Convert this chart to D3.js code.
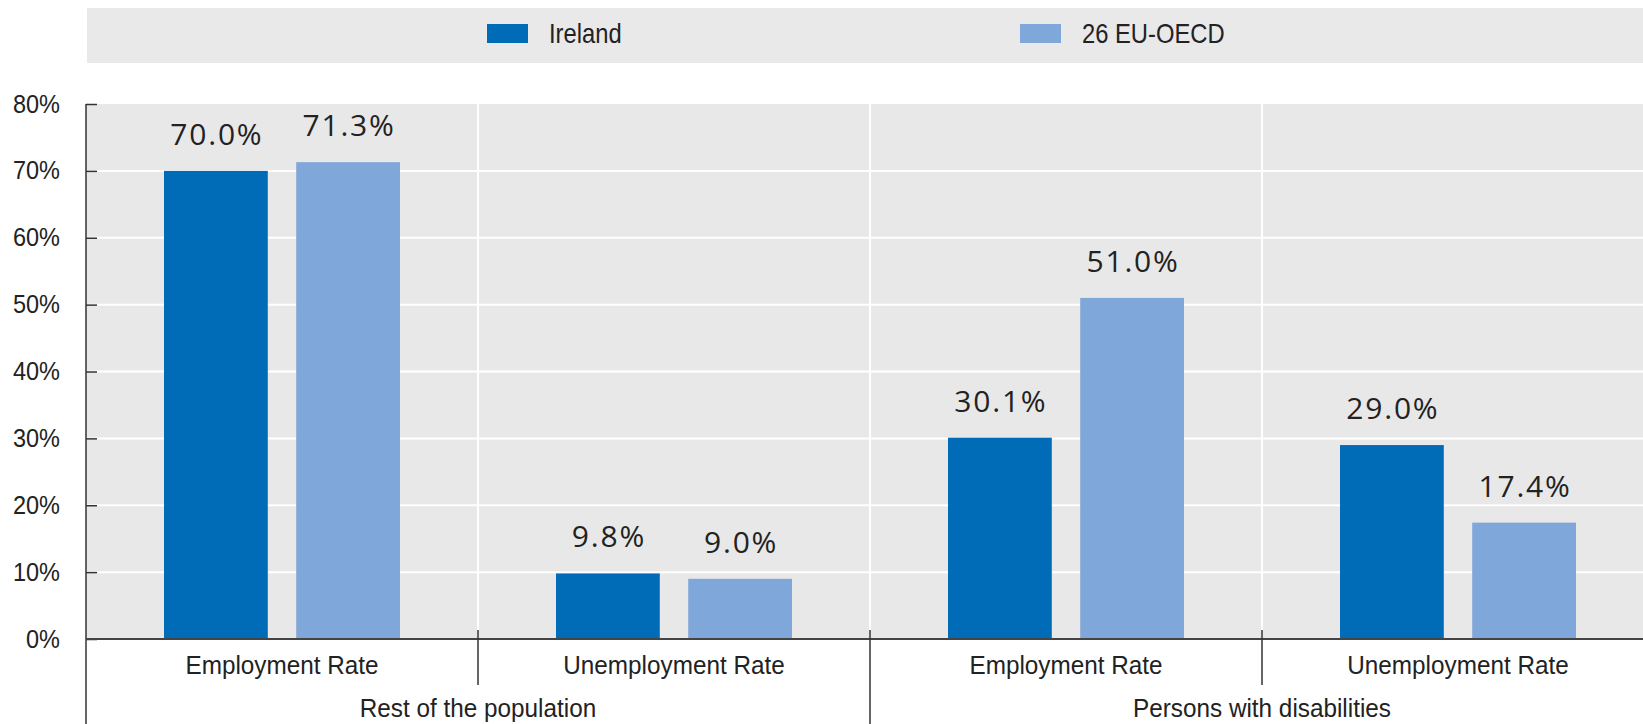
<!DOCTYPE html>
<html>
<head>
<meta charset="utf-8">
<script src="https://cdn.jsdelivr.net/npm/d3@7"></script>
<style>
  body { margin: 0; background: #fff; }
  svg { display: block; }
  text { fill: #222; }
</style>
</head>
<body>
<div id="chart"></div>
<script>
// data
const groups = ["Rest of the population", "Persons with disabilities"];
const categories = ["Employment Rate", "Unemployment Rate", "Employment Rate", "Unemployment Rate"];
const series = ["Ireland", "26 EU-OECD"];
const ireland = [70.0, 9.8, 30.1, 29.0];
const euOecd = [71.3, 9.0, 51.0, 17.4];
const yTicks = [0, 10, 20, 30, 40, 50, 60, 70, 80];

const WIDTH = 1643, HEIGHT = 724;
const colors = { "Ireland": "#006bb6", "26 EU-OECD": "#7fa7d9" };
const narrowFont = "'Liberation Sans', Arial, sans-serif";

// rows for the bars
const rows = categories.map((c, i) => ({
  idx: i,
  cat: c,
  values: [
    { s: "Ireland", v: ireland[i] },
    { s: "26 EU-OECD", v: euOecd[i] }
  ]
}));

// no narrow font installed, so squeeze the regular one sideways
function squeezed(parent, x, yPos, sx, size, anchor, txt) {
  return parent.append("text")
    .attr("transform", `translate(${x},${yPos}) scale(${sx},1)`)
    .attr("text-anchor", anchor)
    .attr("font-family", narrowFont)
    .attr("font-size", size + "px")
    .text(txt);
}

const svg = d3.select("#chart").append("svg")
  .attr("width", WIDTH)
  .attr("height", HEIGHT);

// plot area goes a bit past the right edge, like the original
const plotLeft = 86, plotRight = 1654, plotTop = 104, plotBottom = 639;

const x0 = d3.scaleBand()
  .domain(d3.range(categories.length))
  .range([plotLeft, plotRight])
  .padding(0);

const x1 = d3.scaleBand()
  .domain(series)
  .range([78, x0.bandwidth() - 78])
  .paddingInner(0.215);

const y = d3.scaleLinear()
  .domain([0, 80])
  .range([plotBottom, plotTop]);

// legend band
const legend = svg.append("g");
legend.append("rect")
  .attr("x", 87).attr("y", 8)
  .attr("width", WIDTH - 87).attr("height", 55)
  .attr("fill", "#e9e9e9");

const legendX = [487, 1020];
series.forEach((s, i) => {
  legend.append("rect")
    .attr("x", legendX[i]).attr("y", 24)
    .attr("width", 41).attr("height", 19)
    .attr("fill", colors[s]);
  squeezed(legend, legendX[i] + 62, 43, 0.88, 27, "start", s);
});

// plot background
svg.append("rect")
  .attr("x", plotLeft).attr("y", plotTop)
  .attr("width", plotRight - plotLeft).attr("height", plotBottom - plotTop)
  .attr("fill", "#e8e8e8");

// horizontal gridlines
svg.append("g")
  .selectAll("line")
  .data(yTicks.filter(d => d > 0 && d < 80))
  .enter().append("line")
  .attr("x1", plotLeft).attr("x2", plotRight)
  .attr("y1", d => y(d)).attr("y2", d => y(d))
  .attr("stroke", "#fff").attr("stroke-width", 2);

// vertical separators inside the plot
svg.append("g")
  .selectAll("line")
  .data(d3.range(1, categories.length))
  .enter().append("line")
  .attr("x1", d => x0(d)).attr("x2", d => x0(d))
  .attr("y1", plotTop).attr("y2", plotBottom)
  .attr("stroke", "#fff").attr("stroke-width", 2);

// bars
const cat = svg.append("g")
  .selectAll("g")
  .data(rows)
  .enter().append("g")
  .attr("transform", d => `translate(${x0(d.idx)},0)`);

cat.selectAll("rect")
  .data(d => d.values)
  .enter().append("rect")
  .attr("x", d => x1(d.s))
  .attr("y", d => y(d.v))
  .attr("width", x1.bandwidth())
  .attr("height", d => y(0) - y(d.v))
  .attr("fill", d => colors[d.s]);

// value labels (letter-spacing adds a trailing gap, so nudge right by half of it)
cat.selectAll("text")
  .data(d => d.values)
  .enter().append("text")
  .attr("x", d => x1(d.s) + x1.bandwidth() / 2 + 1)
  .attr("y", d => y(d.v) - 26)
  .attr("text-anchor", "middle")
  .attr("font-family", "'Open Sans', sans-serif")
  .attr("font-size", "30px")
  .attr("letter-spacing", "1.8px")
  .attr("fill", "#222")
  .text(d => d.v.toFixed(1) + "%");

// y axis, ticks point inward
const yAxis = svg.append("g")
  .attr("transform", `translate(${plotLeft},0)`)
  .call(d3.axisLeft(y).tickValues(yTicks).tickFormat(d => d + "%").tickSize(-11).tickPadding(26));
yAxis.select(".domain").remove();
yAxis.selectAll(".tick line").attr("stroke", "#333").attr("stroke-width", 1.5);
yAxis.selectAll(".tick text")
  .attr("x", -26 / 0.94)
  .attr("transform", "scale(0.94,1)")
  .attr("font-family", narrowFont)
  .attr("font-size", "25px")
  .attr("fill", "#222");

svg.append("line")
  .attr("x1", plotLeft).attr("x2", plotLeft)
  .attr("y1", plotTop).attr("y2", HEIGHT)
  .attr("stroke", "#333").attr("stroke-width", 1.5);

// x axis line
svg.append("line")
  .attr("x1", plotLeft).attr("x2", plotRight)
  .attr("y1", plotBottom).attr("y2", plotBottom)
  .attr("stroke", "#444").attr("stroke-width", 2);

// separators below the axis: short between categories, long between groups
svg.append("g")
  .selectAll("line")
  .data(d3.range(1, categories.length))
  .enter().append("line")
  .attr("x1", d => x0(d)).attr("x2", d => x0(d))
  .attr("y1", plotBottom - 9)
  .attr("y2", d => d % 2 === 0 ? HEIGHT : 685)
  .attr("stroke", "#333").attr("stroke-width", 1.5);

// category labels
const catLabels = svg.append("g");
rows.forEach(d => {
  squeezed(catLabels, x0(d.idx) + x0.bandwidth() / 2, 674, 0.935, 26, "middle", d.cat);
});

// group labels
const groupLabels = svg.append("g");
groups.forEach((g, i) => {
  squeezed(groupLabels, x0(i * 2) + x0.bandwidth(), 717, 0.935, 26, "middle", g);
});
</script>
</body>
</html>
